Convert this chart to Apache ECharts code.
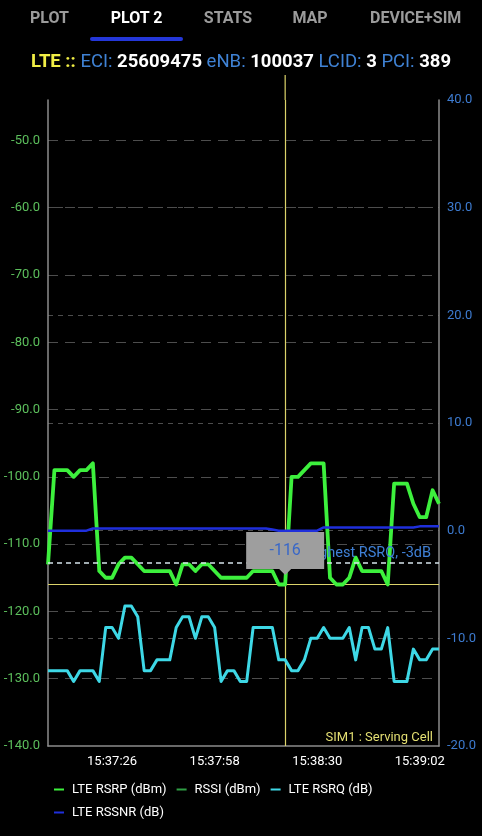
<!DOCTYPE html>
<html>
<head>
<meta charset="utf-8">
<script src="https://cdn.jsdelivr.net/npm/echarts@6/dist/echarts.min.js"></script>
<style>
  html, body { margin:0; padding:0; background:#000; width:482px; height:836px; overflow:hidden; font-family: Roboto, "Noto Sans", sans-serif; }
  #chart { position:absolute; left:0; top:0; width:482px; height:836px; }
  .tab { position:absolute; top:8px; font-size:16px; font-weight:bold; color:#9b9b9b; transform:translateX(-50%); white-space:nowrap; line-height:19px; }
  .tab.sel { color:#fff; }
  #uline { position:absolute; left:90px; top:37px; width:93px; height:4px; background:#2437d9; border-radius:2px; }
  #hdr { position:absolute; top:50px; left:0; width:482px; text-align:center; font-size:18.5px; line-height:22px; white-space:nowrap; }
  .y { color:#f1ee45; font-weight:bold; }
  .b { color:#3f82d4; }
  .w { color:#fff; font-weight:bold; }
</style>
</head>
<body>
<div id="chart"></div>
<div class="tab" style="left:49.5px">PLOT</div>
<div class="tab sel" style="left:136.5px">PLOT 2</div>
<div class="tab" style="left:228px">STATS</div>
<div class="tab" style="left:310px">MAP</div>
<div class="tab" style="left:415.7px">DEVICE+SIM</div>
<div id="uline"></div>
<div id="hdr"><span class="y">LTE ::</span> <span class="b">ECI:</span> <span class="w">25609475</span> <span class="b">eNB:</span> <span class="w">100037</span> <span class="b">LCID:</span> <span class="w">3</span> <span class="b">PCI:</span> <span class="w">389</span></div>
<script>
// ---- data ----
const times = [
  '15:37:06','15:37:08','15:37:10','15:37:12','15:37:14','15:37:16','15:37:18','15:37:20','15:37:22','15:37:24',
  '15:37:26','15:37:28','15:37:30','15:37:32','15:37:34','15:37:36','15:37:38','15:37:40','15:37:42','15:37:44',
  '15:37:46','15:37:48','15:37:50','15:37:52','15:37:54','15:37:56','15:37:58','15:38:00','15:38:02','15:38:04',
  '15:38:06','15:38:08','15:38:10','15:38:12','15:38:14','15:38:16','15:38:18','15:38:20','15:38:22','15:38:24',
  '15:38:26','15:38:28','15:38:30','15:38:32','15:38:34','15:38:36','15:38:38','15:38:40','15:38:42','15:38:44',
  '15:38:46','15:38:48','15:38:50','15:38:52','15:38:54','15:38:56','15:38:58','15:39:00','15:39:02','15:39:04',
  '15:39:06','15:39:08'
];
const rsrp = [
  -113,-99,-99,-99,-100,-99,-99,-98,-114,-115,
  -115,-113,-112,-112,-113,-114,-114,-114,-114,-114,
  -116,-113,-113,-114,-113,-113,-114,-115,-115,-115,
  -115,-115,-114,-114,-114,-114,-116,-116,-100,-100,
  -99,-98,-98,-98,-115,-116,-116,-115,-112,-114,
  -114,-114,-114,-116,-101,-101,-101,-104,-106,-106,
  -102,-104
];
const rssi = [];
const rsrq = [
  -13,-13,-13,-13,-14,-13,-13,-13,-14,-9,
  -9,-10,-7,-7,-8,-13,-13,-12,-12,-12,
  -9,-8,-8,-10,-8,-8,-9,-14,-13,-13,
  -14,-14,-9,-9,-9,-9,-12,-12,-13,-13,
  -12,-10,-10,-9,-10,-10,-10,-9,-12,-9,
  -9,-11,-11,-9,-14,-14,-14,-11,-12,-12,
  -11,-11
];
const rssnr = [
  0,0,0,0,0,0,0,0.2,0.2,0.2,
  0.2,0.2,0.2,0.2,0.2,0.2,0.2,0.2,0.2,0.2,
  0.2,0.2,0.2,0.2,0.2,0.2,0.2,0.2,0.2,0.2,
  0.2,0.2,0.2,0.2,0.2,0.1,0,0,0,0,
  0,0,0,0.3,0.3,0.3,0.3,0.3,0.3,0.3,
  0.3,0.3,0.3,0.3,0.3,0.3,0.3,0.3,0.4,0.4,
  0.4,0.4
];
const xTickLabels = ['15:37:26','15:37:58','15:38:30','15:39:02'];
const cursorTime = '15:38:20';
const cursorValue = -116;
const rsrqThreshold = -3;
const seriesNames = ['LTE RSRP (dBm)','RSSI (dBm)','LTE RSRQ (dB)','LTE RSSNR (dB)'];

// ---- helpers ----
function toSec(s){ const p = s.split(':').map(Number); return p[0]*3600 + p[1]*60 + p[2]; }
function pad(n){ return (n<10?'0':'') + n; }
function fmtSec(v){ v = Math.round(v); return pad(Math.floor(v/3600)) + ':' + pad(Math.floor(v/60)%60) + ':' + pad(v%60); }
function pairs(arr){ return arr.map((v,i)=>[toSec(times[i]), v]); }

const FONT = 'Roboto';
const CURSOR = '#dcd36a';
const chart = echarts.init(document.getElementById('chart'), null, {renderer:'canvas'});
const cursorX = toSec(cursorTime);

const option = {
  backgroundColor: '#000',
  animation: false,
  grid: { left: 48, right: 43, top: 100, bottom: 90, containLabel: false },
  legend: {
    left: 54, top: 783, width: 330, padding: 0,
    icon: 'rect', itemWidth: 10, itemHeight: 2, itemGap: 10,
    textStyle: { color: '#fff', fontSize: 13, fontFamily: FONT, padding: [0,0,0,3] },
    data: seriesNames
  },
  xAxis: {
    type: 'value',
    min: toSec(times[0]), max: toSec(times[times.length-1]),
    axisLine: { show: true, onZero: false, lineStyle: { color: '#8c8c8c', width: 1.5 } },
    axisTick: { show: false },
    splitLine: { show: false },
    axisLabel: {
      customValues: xTickLabels.map(toSec),
      formatter: v => fmtSec(v),
      color: '#fff', fontSize: 13, fontFamily: FONT, margin: 9
    }
  },
  yAxis: [
    {
      type: 'value', position: 'left', min: -140, max: -44, interval: 10,
      axisLine: { show: true, onZero: false, lineStyle: { color: '#8c8c8c', width: 1.5 } },
      axisTick: { show: false },
      axisLabel: { color: '#5cbf5c', fontSize: 13, fontFamily: FONT, margin: 8, showMaxLabel: false, formatter: v => v.toFixed(1) },
      splitLine: { show: true, showMinLine: false, showMaxLine: false, lineStyle: { color: '#4d4d4d', type: [10,7], width: 1 } }
    },
    {
      type: 'value', position: 'right', min: -20, max: 40, interval: 10,
      axisLine: { show: true, onZero: false, lineStyle: { color: '#8c8c8c', width: 1.5 } },
      axisTick: { show: false },
      axisLabel: { color: '#3d7bd0', fontSize: 13, fontFamily: FONT, margin: 8, formatter: v => v.toFixed(1) },
      splitLine: { show: true, showMinLine: false, showMaxLine: false, lineStyle: { color: '#4d4d4d', type: [5,5], width: 1 } }
    }
  ],
  series: [
    {
      name: seriesNames[0], type: 'line', yAxisIndex: 0, data: pairs(rsrp),
      showSymbol: false, symbol: 'none', z: 2,
      itemStyle: { color: '#3df03d' },
      lineStyle: { color: '#3df03d', width: 3.8, join: 'round' }
    },
    {
      name: seriesNames[1], type: 'line', yAxisIndex: 0, data: pairs(rssi),
      showSymbol: false, symbol: 'none',
      itemStyle: { color: '#2f9e44' },
      lineStyle: { color: '#2f9e44', width: 2 }
    },
    {
      name: seriesNames[2], type: 'line', yAxisIndex: 1, data: pairs(rsrq),
      showSymbol: false, symbol: 'none', z: 2,
      itemStyle: { color: '#3ed8e6' },
      lineStyle: { color: '#3ed8e6', width: 3, join: 'round' },
      markLine: {
        silent: true, symbol: 'none', animation: false,
        lineStyle: { color: '#d5e3ea', type: [5,4], width: 1.5 },
        label: { show: true, position: 'insideEndTop', formatter: 'Highest RSRQ, ' + rsrqThreshold + 'dB', color: '#3f80d6', fontSize: 14.5, fontFamily: FONT, distance: [8, 2] },
        data: [{ yAxis: rsrqThreshold }]
      }
    },
    {
      name: seriesNames[3], type: 'line', yAxisIndex: 1, data: pairs(rssnr),
      showSymbol: false, symbol: 'none', z: 3,
      itemStyle: { color: '#1f2fdc' },
      lineStyle: { color: '#1f2fdc', width: 2.5 }
    },
    {
      name: 'cursor', type: 'scatter', yAxisIndex: 0, silent: true, z: 10,
      data: [[cursorX, cursorValue]],
      symbol: 'path://M0,0H78V37H45L39,43L33,37H0Z',
      symbolSize: [78, 43], symbolOffset: [0, -31], symbolKeepAspect: false,
      itemStyle: { color: '#9e9e9e', opacity: 1 },
      label: { show: true, position: 'inside', offset: [0, -3], formatter: String(cursorValue), color: '#3867c8', fontSize: 16, fontFamily: FONT },
      markLine: {
        silent: true, symbol: 'none', animation: false, z: 1,
        lineStyle: { color: CURSOR, type: 'solid', width: 1.2 },
        label: { show: false },
        data: [{ xAxis: cursorX }, { yAxis: cursorValue }]
      }
    }
  ]
};
chart.setOption(option);

const gx = chart.convertToPixel({xAxisIndex: 0}, cursorX);
const gRight = chart.convertToPixel({xAxisIndex: 0}, toSec(times[times.length-1]));
const gTop = chart.convertToPixel({yAxisIndex: 1}, 40);
const gBottom = chart.convertToPixel({yAxisIndex: 1}, -20);
chart.setOption({
  graphic: [
    { type: 'line', z: 5, silent: true, shape: { x1: gx, y1: gTop - 25, x2: gx, y2: gTop }, style: { stroke: CURSOR, lineWidth: 1.2 } },
    { type: 'text', z: 5, silent: true, x: gRight - 6, y: gBottom - 8,
      style: { text: 'SIM1 : Serving Cell', fill: '#e4df72', font: '13px Roboto', textAlign: 'right', textVerticalAlign: 'middle' } }
  ]
});
</script>
</body>
</html>
